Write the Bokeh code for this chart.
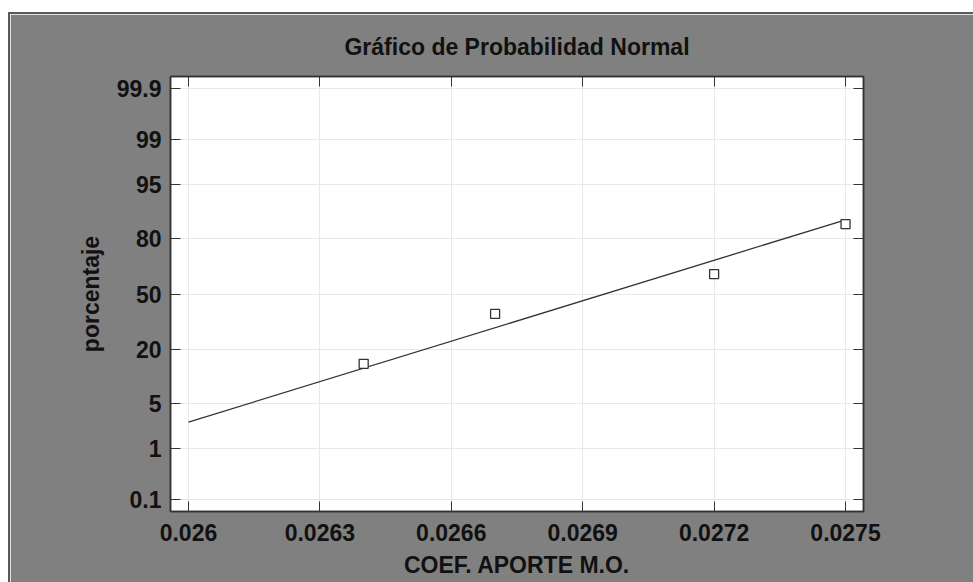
from statistics import NormalDist, mean, stdev
from bokeh.plotting import figure
from bokeh.models import FixedTicker, LinearAxis, Range1d, ColumnDataSource, CustomJSTickFormatter
from bokeh.embed import file_html
from bokeh.resources import INLINE

# ---- data ----
coef_x = [0.0264, 0.0267, 0.0272, 0.0275]
porcentaje = [14.7, 38.2, 61.8, 85.3]
x_ticks = [0.026, 0.0263, 0.0266, 0.0269, 0.0272, 0.0275]
x_tick_labels = ["0.026", "0.0263", "0.0266", "0.0269", "0.0272", "0.0275"]
y_tick_pct = [0.1, 1, 5, 20, 50, 80, 95, 99, 99.9]
y_tick_labels = ["0.1", "1", "5", "20", "50", "80", "95", "99", "99.9"]
line_x = [0.026, 0.0275]

nd = NormalDist()
z_pts = [nd.inv_cdf(p / 100.0) for p in porcentaje]
z_ticks = [nd.inv_cdf(p / 100.0) for p in y_tick_pct]
mu, sd = mean(coef_x), stdev(coef_x)
line_z = [(x - mu) / sd for x in line_x]

FONT = "Liberation Sans"
GRAY = "#808080"

p = figure(
    frame_width=693, frame_height=435,
    min_border_left=160, min_border_right=110, min_border_top=62, min_border_bottom=71,
    x_range=Range1d(0.025959, 0.027541), y_range=Range1d(-3.27, 3.27),
    output_backend="svg", toolbar_location=None,
    title="Gráfico de Probabilidad Normal",
    background_fill_color="white", border_fill_color=GRAY,
)
p.margin = (14, 0, 0, 10)
p.styles = {"outline": "2px solid #5a5a5a", "outline-offset": "0px"}

p.title.align = "center"
p.title.text_font = FONT
p.title.text_font_size = "23px"
p.title.text_font_style = "bold"
p.title.text_color = "#111111"
p.title.standoff = 34

p.outline_line_color = "#333333"
p.outline_line_width = 1.5

p.xgrid.ticker = FixedTicker(ticks=x_ticks)
p.ygrid.ticker = FixedTicker(ticks=z_ticks)
p.xgrid.grid_line_color = "#e8e8e8"
p.ygrid.grid_line_color = "#e8e8e8"

def style_axis(ax, ticks, show_labels):
    ax.ticker = FixedTicker(ticks=ticks)
    ax.major_tick_in = 10
    ax.major_tick_out = 0
    ax.minor_tick_in = 0
    ax.minor_tick_out = 0
    ax.major_tick_line_color = "#333333"
    ax.axis_line_color = "#333333"
    ax.axis_line_width = 1.5
    ax.major_label_text_font = FONT
    ax.major_label_text_font_style = "bold"
    ax.major_label_text_color = "#111111"
    ax.major_label_text_font_size = "23px"
    if not show_labels:
        ax.formatter = CustomJSTickFormatter(code="return '';")
        ax.major_label_standoff = 0

xa = p.xaxis[0]
style_axis(xa, x_ticks, True)
xa.major_label_overrides = dict(zip(x_ticks, x_tick_labels))
xa.major_label_standoff = 12
xa.axis_label = "COEF. APORTE M.O."
xa.axis_label_text_font = FONT
xa.axis_label_text_font_size = "23px"
xa.axis_label_text_font_style = "bold"
xa.axis_label_text_color = "#111111"
xa.axis_label_standoff = 8

ya = p.yaxis[0]
style_axis(ya, z_ticks, True)
ya.major_label_overrides = dict(zip(z_ticks, y_tick_labels))
ya.major_label_standoff = 9
ya.axis_label = "porcentaje"
ya.axis_label_text_font = FONT
ya.axis_label_text_font_size = "23px"
ya.axis_label_text_font_style = "bold"
ya.axis_label_text_color = "#111111"
ya.axis_label_standoff = 10

top = LinearAxis()
style_axis(top, x_ticks, False)
p.add_layout(top, "above")
right = LinearAxis()
style_axis(right, z_ticks, False)
p.add_layout(right, "right")

p.line(line_x, line_z, line_color="#333333", line_width=1.3)
src = ColumnDataSource(dict(x=coef_x, z=z_pts))
p.scatter("x", "z", source=src, marker="square", size=9,
          fill_color="white", line_color="#333333", line_width=1.3)

open("out.html", "w").write(file_html(p, INLINE))
